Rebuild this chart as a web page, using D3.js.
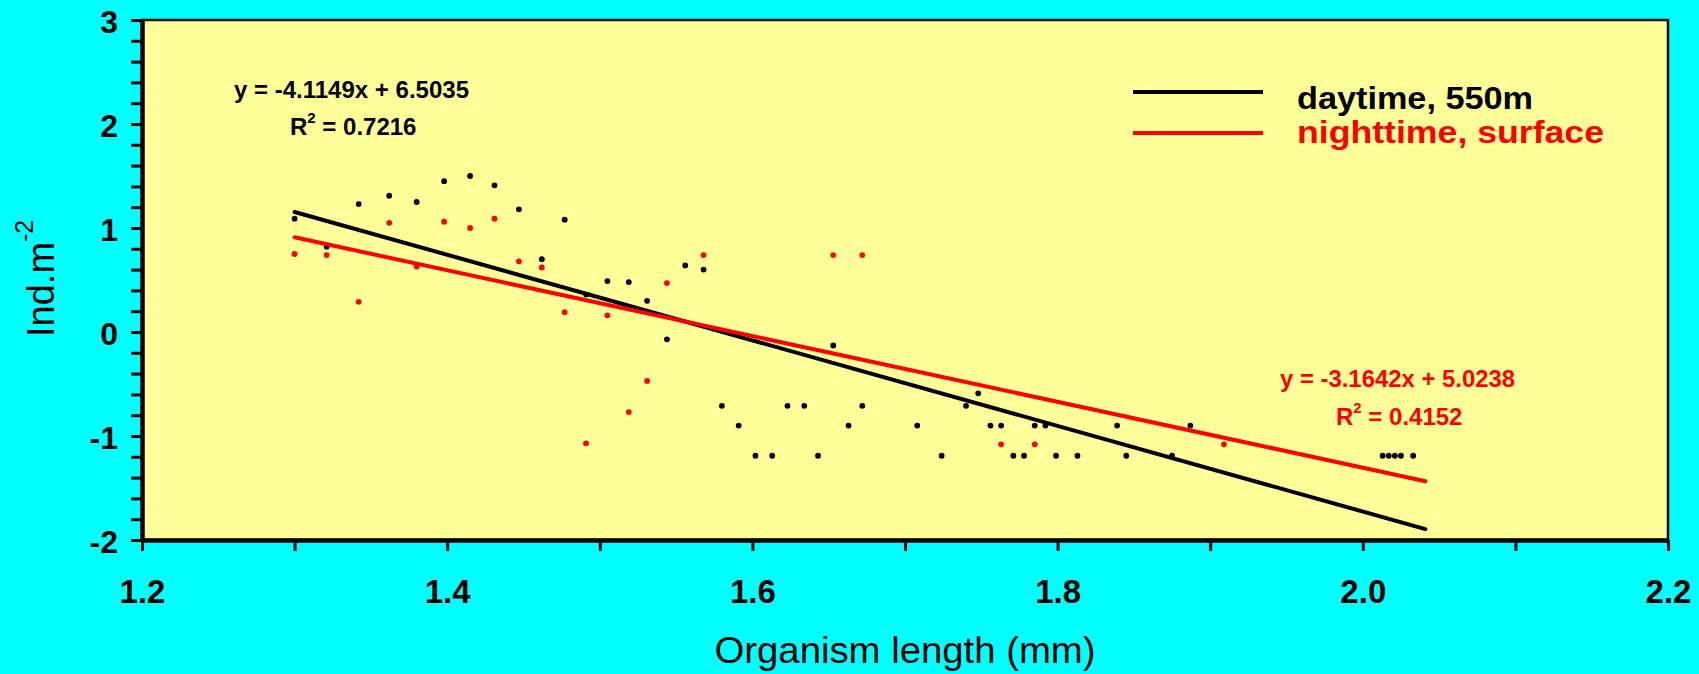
<!DOCTYPE html>
<html>
<head>
<meta charset="utf-8">
<script src="https://cdn.jsdelivr.net/npm/d3@7"></script>
<style>
  html, body { margin: 0; padding: 0; background: #00FFFF; }
  svg { display: block; }
  text { font-family: "Liberation Sans", Arial, sans-serif; }
</style>
</head>
<body>
<svg id="chart" width="1699" height="674"></svg>
<script>
// Daytime (550 m) samples: log organism length vs log abundance
const dayX = [1.300,1.321,1.342,1.362,1.380,1.398,1.415,1.431,1.447,1.462,
              1.477,1.491,1.505,1.519,1.531,1.544,1.556,1.568,1.580,1.591,
              1.602,1.613,1.623,1.634,1.643,1.653,1.663,1.672,1.708,1.724,
              1.740,1.748,1.756,1.763,1.771,1.778,1.785,1.792,1.799,1.813,
              1.839,1.845,1.875,1.887,2.013,2.017,2.021,2.025,2.033];
const dayY = [1.09,0.82,1.23,1.31,1.25,1.45,1.50,1.41,1.18,0.70,
              1.08,0.36,0.49,0.48,0.30,-0.07,0.64,0.60,-0.71,-0.90,
              -1.19,-1.19,-0.71,-0.71,-1.19,-0.13,-0.90,-0.71,-0.90,-1.19,
              -0.71,-0.59,-0.90,-0.90,-1.19,-1.19,-0.90,-0.90,-1.19,-1.19,
              -0.90,-1.19,-1.19,-0.90,-1.19,-1.19,-1.19,-1.19,-1.19];

// Nighttime (surface) samples
const nightX = [1.300,1.321,1.342,1.362,1.380,1.398,1.415,1.431,1.447,1.462,
                1.477,1.491,1.505,1.519,1.531,1.544,1.568,1.653,1.672,1.763,
                1.785,1.909];
const nightY = [0.75,0.74,0.29,1.05,0.63,1.06,1.00,1.09,0.68,0.62,
                0.19,-1.07,0.16,-0.77,-0.47,0.47,0.74,0.74,0.74,-1.08,
                -1.08,-1.08];

// Linear trend lines
const daySlope = -4.1149, dayIntercept = 6.5035, dayR2 = "0.7216";
const nightSlope = -3.1642, nightIntercept = 5.0238, nightR2 = "0.4152";
const fitRange = [1.300, 2.041];

// Axis ticks
const xTicks = [1.2, 1.4, 1.6, 1.8, 2.0, 2.2];
const xMinorTicks = [1.3, 1.5, 1.7, 1.9, 2.1];
const yTicks = [-2, -1, 0, 1, 2, 3];
const yMinorTicks = [-1.8,-1.6,-1.4,-1.2,-0.8,-0.6,-0.4,-0.2,0.2,0.4,0.6,0.8,
                     1.2,1.4,1.6,1.8,2.2,2.4,2.6,2.8];

const legendLabels = ["daytime, 550m", "nighttime, surface"];
const seriesColors = ["#000000", "#FF0000"];

const svg = d3.select("#chart");
const plotLeft = 142, plotRight = 1668, plotTop = 20, plotBottom = 540;

const x = d3.scaleLinear().domain([1.2, 2.2]).range([plotLeft, plotRight]);
const y = d3.scaleLinear().domain([-2, 3]).range([plotBottom, plotTop]);

// background and plot area
svg.append("rect").attr("width", 1699).attr("height", 674).attr("fill", "#00FFFF");
svg.append("rect")
  .attr("x", plotLeft).attr("y", plotTop)
  .attr("width", plotRight - plotLeft).attr("height", plotBottom - plotTop)
  .attr("fill", "#FFFF99")
  .attr("stroke", "#000").attr("stroke-width", 2.5);

// axes
function styleAxis(g) {
  g.selectAll("path.domain").attr("stroke", "#000").attr("stroke-width", 4);
  g.selectAll(".tick line").attr("stroke", "#000").attr("stroke-width", 3);
}

const yAxisG = svg.append("g").attr("transform", `translate(${plotLeft},0)`)
  .call(d3.axisLeft(y).tickValues(yTicks).tickSize(11).tickSizeOuter(0)
        .tickPadding(13).tickFormat(d => String(d)));
yAxisG.call(styleAxis);
yAxisG.selectAll(".tick text")
  .attr("font-family", "Liberation Sans, Arial, sans-serif")
  .attr("font-size", 32).attr("font-weight", "bold").attr("fill", "#000")
  .attr("dy", "0.38em");

svg.append("g").attr("transform", `translate(${plotLeft},0)`)
  .call(d3.axisLeft(y).tickValues(yMinorTicks).tickSize(11).tickSizeOuter(0).tickFormat(""))
  .call(styleAxis);

const xAxisG = svg.append("g").attr("transform", `translate(0,${plotBottom})`)
  .call(d3.axisBottom(x).tickValues(xTicks).tickSize(11).tickSizeOuter(0)
        .tickFormat(d3.format(".1f")));
xAxisG.call(styleAxis);
xAxisG.selectAll(".tick text")
  .attr("font-family", "Liberation Sans, Arial, sans-serif")
  .attr("font-size", 33).attr("font-weight", "bold").attr("fill", "#000")
  .attr("y", 63).attr("dy", 0);

svg.append("g").attr("transform", `translate(0,${plotBottom})`)
  .call(d3.axisBottom(x).tickValues(xMinorTicks).tickSize(11).tickSizeOuter(0).tickFormat(""))
  .call(styleAxis);

// axis titles
svg.append("text")
  .attr("x", (plotLeft + plotRight) / 2).attr("y", 663)
  .attr("text-anchor", "middle")
  .attr("font-size", 36)
  .attr("textLength", 381).attr("lengthAdjust", "spacingAndGlyphs")
  .attr("fill", "#000")
  .text("Organism length (mm)");

const yTitle = svg.append("text")
  .attr("transform", "translate(54,337) rotate(-90)")
  .attr("font-size", 38).attr("fill", "#000");
yTitle.append("tspan").text("Ind.m");
yTitle.append("tspan").attr("font-size", 25).attr("dy", -21).text("-2");

// scatter points
const dayPts = dayX.map((v, i) => ({ x: v, y: dayY[i] }));
const nightPts = nightX.map((v, i) => ({ x: v, y: nightY[i] }));

svg.append("g").selectAll("circle").data(dayPts).join("circle")
  .attr("cx", d => x(d.x)).attr("cy", d => y(d.y)).attr("r", 2.9)
  .attr("fill", seriesColors[0]);
svg.append("g").selectAll("circle").data(nightPts).join("circle")
  .attr("cx", d => x(d.x)).attr("cy", d => y(d.y)).attr("r", 2.9)
  .attr("fill", seriesColors[1]);

// trend lines
const line = d3.line().x(d => x(d[0])).y(d => y(d[1]));
const dayFit = fitRange.map(v => [v, daySlope * v + dayIntercept]);
const nightFit = fitRange.map(v => [v, nightSlope * v + nightIntercept]);

svg.append("path").attr("d", line(dayFit))
  .attr("stroke", seriesColors[0]).attr("stroke-width", 4)
  .attr("fill", "none").attr("stroke-linecap", "round");
svg.append("path").attr("d", line(nightFit))
  .attr("stroke", seriesColors[1]).attr("stroke-width", 4)
  .attr("fill", "none").attr("stroke-linecap", "round");

// equation labels
function equation(xStart, baseEq, baseR2, xR2, slope, intercept, r2, color) {
  svg.append("text")
    .attr("x", xStart).attr("y", baseEq)
    .attr("font-size", 24).attr("font-weight", "bold").attr("fill", color)
    .attr("textLength", 235).attr("lengthAdjust", "spacingAndGlyphs")
    .text(`y = ${slope.toFixed(4)}x + ${intercept.toFixed(4)}`);
  const t = svg.append("text")
    .attr("x", xR2).attr("y", baseR2)
    .attr("font-size", 24).attr("font-weight", "bold").attr("fill", color);
  t.append("tspan").text("R");
  t.append("tspan").attr("font-size", 15).attr("dy", -12).text("2");
  t.append("tspan").attr("dy", 12).text(` = ${r2}`);
}
equation(234, 98, 135, 290, daySlope, dayIntercept, dayR2, seriesColors[0]);
equation(1280, 387, 425, 1336, nightSlope, nightIntercept, nightR2, seriesColors[1]);

// legend
const legendY = [92, 133];
const legendBase = [109, 143];
const legendWidths = [236, 307];
legendLabels.forEach((lab, i) => {
  svg.append("line")
    .attr("x1", 1133).attr("x2", 1263)
    .attr("y1", legendY[i]).attr("y2", legendY[i])
    .attr("stroke", seriesColors[i]).attr("stroke-width", 4);
  svg.append("text")
    .attr("x", 1297).attr("y", legendBase[i])
    .attr("font-size", 32).attr("font-weight", "bold")
    .attr("fill", seriesColors[i])
    .attr("textLength", legendWidths[i]).attr("lengthAdjust", "spacingAndGlyphs")
    .text(lab);
});
</script>
</body>
</html>
